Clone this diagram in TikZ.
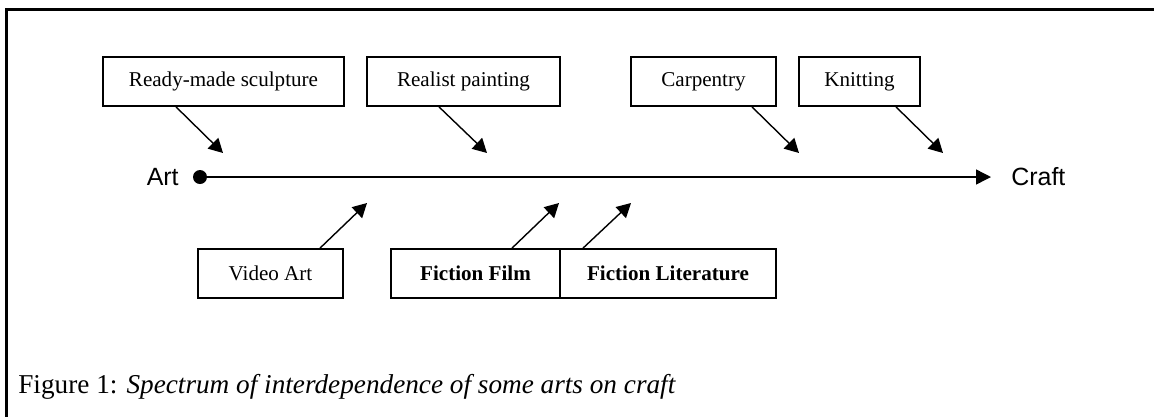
\documentclass[tikz,border=0pt]{standalone}
\usepackage{fontspec}
\setmainfont{Liberation Serif}
\newfontfamily\axisfont{Liberation Sans}
\usetikzlibrary{arrows.meta}
\tikzset{
  artbox/.style={draw,line width=1pt,minimum height=0.98cm,inner sep=0pt,
    font=\fontsize{12}{14}\selectfont},
  pointer/.style={-{Triangle[length=8pt,width=8.5pt]},line width=0.8pt},
  endlabel/.style={inner sep=0pt,font=\axisfont\fontsize{14.2}{16}\selectfont},
}
\begin{document}
\begin{tikzpicture}[x=0.02cm,y=-0.02cm]
    \useasboundingbox (0,0) rectangle (1154,417);
    \draw [line width=1.2pt] (1154,9.5) -- (6.5,9.5) -- (6.5,417);

    % upper row
    \node (ready) [artbox,minimum width=4.82cm] at (223.5,81.5) {Ready-made sculpture};
    \node (realist) [artbox,minimum width=3.86cm] at (463.5,81.5) {Realist painting};
    \node (carpentry) [artbox,minimum width=2.9cm] at (703.5,81.5) {Carpentry};
    \node (knitting) [artbox,minimum width=2.42cm] at (859.5,81.5) {Knitting};

    % lower row
    \node (video) [artbox,minimum width=2.9cm] at (270.5,273.5) {Video Art};
    \node (film) [artbox,minimum width=3.38cm] at (475.5,273.5) {\textbf{Fiction Film}};
    \node (literature) [artbox,minimum width=4.32cm] at (668,273.5) {\textbf{Fiction Literature}};

    % the spectrum
    \node (artdot) [circle,fill,inner sep=0pt,minimum size=0.28cm] at (200,177) {};
    \node (crafttip) [coordinate] at (991,177) {};
    \node (art) [endlabel,anchor=east] at (179,177) {Art};
    \node (craft) [endlabel,anchor=west] at (1011,177) {Craft};
    \path [-{Triangle[length=8.5pt,width=8.5pt]},line width=0.8pt]
        (artdot.center) edge (crafttip)
    ;

    \node (readytip) [coordinate] at (223,153) {};
    \node (realisttip) [coordinate] at (487,153) {};
    \node (carpentrytip) [coordinate] at (799,153) {};
    \node (knittingtip) [coordinate] at (943,153) {};
    \node (videotip) [coordinate] at (367,203) {};
    \node (filmtip) [coordinate] at (559,203) {};
    \node (literaturetip) [coordinate] at (631,203) {};
    \path [pointer]
        ([xshift=-0.95cm]ready.south) edge (readytip)
        ([xshift=-0.49cm]realist.south) edge (realisttip)
        ([xshift=0.97cm]carpentry.south) edge (carpentrytip)
        ([xshift=0.73cm]knitting.south) edge (knittingtip)
        ([xshift=0.99cm]video.north) edge (videotip)
        ([xshift=0.73cm]film.north) edge (filmtip)
        ([xshift=-1.7cm]literature.north) edge (literaturetip)
    ;

    \node (caption) [anchor=base west,inner sep=0pt,font=\fontsize{15.5}{18}\selectfont]
        at (18,393) {Figure 1: \textit{Spectrum of interdependence of some arts on craft}};
\end{tikzpicture}
\end{document}
